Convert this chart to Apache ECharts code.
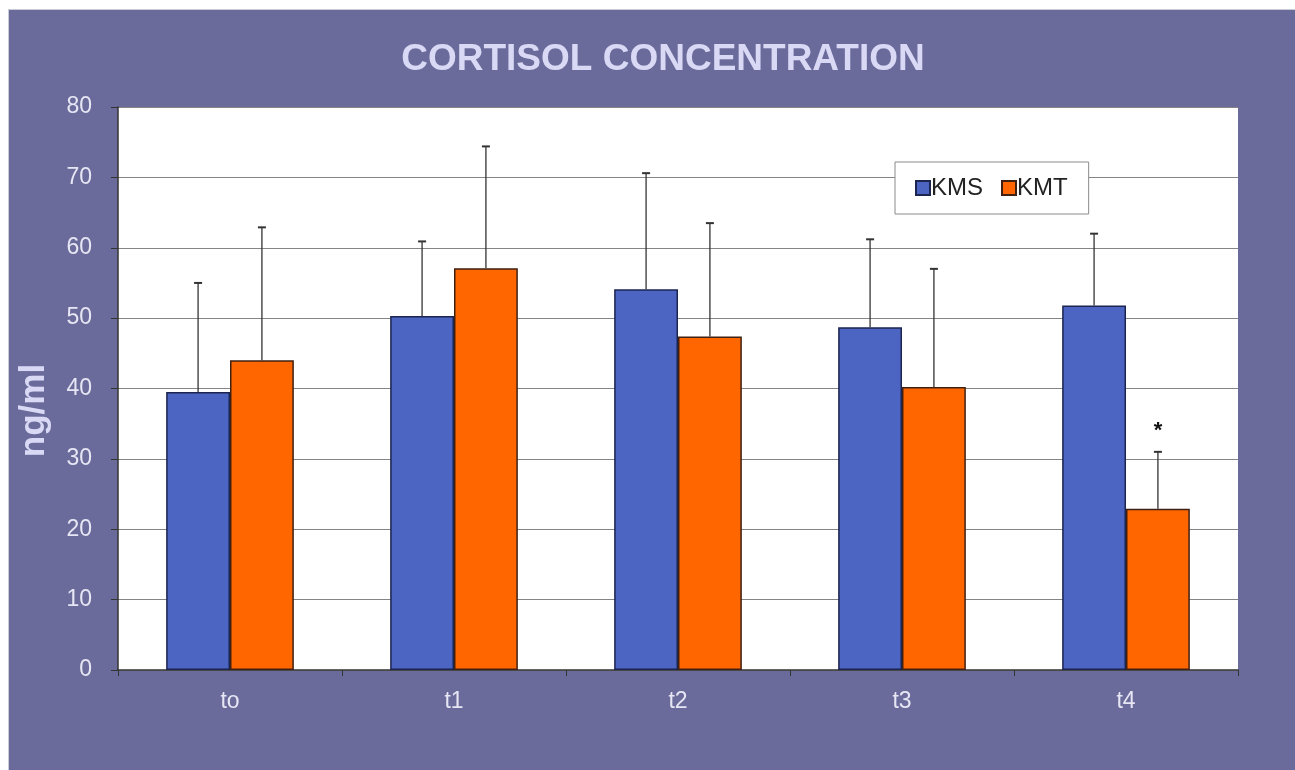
<!DOCTYPE html>
<html>
<head>
<meta charset="utf-8">
<script src="https://cdn.jsdelivr.net/npm/echarts@6/dist/echarts.min.js"></script>
<style>
  html, body { margin: 0; padding: 0; background: #ffffff; }
  #frame { position: absolute; left: 8px; top: 9px; width: 1287px; height: 761px; background: #6b6b9b; border-left: 1px solid #c9cbd6; border-top: 1px solid #c9cbd6; box-sizing: border-box; }
  #chart { position: absolute; left: 0; top: 0; width: 1295px; height: 770px; }
</style>
</head>
<body>
<div id="frame"></div>
<div id="chart"></div>
<script>
// time points
const categories = ['to', 't1', 't2', 't3', 't4']
// mean cortisol, ng/ml
const kmsValues = [39.5, 50.3, 54.1, 48.7, 51.8]
const kmtValues = [44.0, 57.1, 47.4, 40.2, 22.9]
// upper end of the error bars
const kmsErrTop = [55.0, 60.9, 70.6, 61.2, 62.0]
const kmtErrTop = [62.9, 74.4, 63.5, 57.0, 31.0]
// significance marks above KMT
const kmtMarks = ['', '', '', '', '*']
const yTicks = [0, 10, 20, 30, 40, 50, 60, 70, 80]

const chart = echarts.init(document.getElementById('chart'))

// draws one error bar (and an optional mark) per category
const errorBar = (values, tops, marks, side) => (params, api) => {
  const idx = api.value(0)
  const band = api.size([1, 0])[0]
  const x = api.coord([idx, 0])[0] + side * band * 0.1425
  const yBase = api.coord([idx, values[idx]])[1]
  const yTop = api.coord([idx, tops[idx]])[1]
  const children = [
    { type: 'line', shape: { x1: x, y1: yBase, x2: x, y2: yTop }, style: { stroke: '#333', lineWidth: 1.3 } },
    { type: 'line', shape: { x1: x - 4, y1: yTop, x2: x + 4, y2: yTop }, style: { stroke: '#333', lineWidth: 2 } }
  ]
  if (marks && marks[idx]) {
    children.push({
      type: 'text',
      style: { x: x, y: yTop - 21, text: marks[idx], fill: '#111', font: 'bold 22px Liberation Sans', align: 'center', verticalAlign: 'middle' }
    })
  }
  return { type: 'group', children }
}

const option = {
  animation: false,
  backgroundColor: 'transparent',
  title: {
    text: 'CORTISOL CONCENTRATION',
    left: 658,
    top: 36,
    textAlign: 'center',
    textStyle: { color: '#d9d9f6', fontSize: 37, fontWeight: 'bold', fontFamily: 'Liberation Sans' }
  },
  legend: {
    data: ['KMS', 'KMT'],
    left: 895,
    top: 162,
    orient: 'horizontal',
    backgroundColor: '#ffffff',
    borderColor: '#8a8a8a',
    borderWidth: 1,
    borderRadius: 0,
    padding: [14, 21, 14, 20],
    itemWidth: 14,
    itemHeight: 14,
    itemGap: 18,
    icon: 'rect',
    textStyle: { color: '#222', fontSize: 24, fontFamily: 'Liberation Sans', padding: [0, 0, 0, -4] }
  },
  grid: { left: 118, right: 57, top: 107, bottom: 100, backgroundColor: '#ffffff', show: true, borderWidth: 0 },
  xAxis: {
    type: 'category',
    data: categories,
    axisLine: { lineStyle: { color: '#333', width: 1.5 } },
    axisTick: { show: true, length: 6, lineStyle: { color: '#333' } },
    axisLabel: { color: '#e6e6f4', fontSize: 23, fontFamily: 'Liberation Sans', margin: 20 }
  },
  yAxis: {
    type: 'value',
    min: 0,
    max: 80,
    interval: 10,
    name: 'ng/ml',
    nameLocation: 'middle',
    nameGap: 66,
    nameTextStyle: { color: '#d9d9f6', fontSize: 35, fontWeight: 'bold', fontFamily: 'Liberation Sans', padding: [0, 44, 0, 0] },
    axisLine: { show: true, lineStyle: { color: '#333', width: 1.5 } },
    axisTick: { show: true, length: 7, lineStyle: { color: '#333' } },
    splitLine: { lineStyle: { color: '#858585', width: 1.2 } },
    axisLabel: {
      color: '#e6e6f4', fontSize: 23, fontFamily: 'Liberation Sans', margin: 26,
      formatter: (v) => yTicks.includes(v) ? String(v) : ''
    }
  },
  series: [
    {
      name: 'KMS',
      type: 'bar',
      data: kmsValues,
      barGap: '0%',
      barCategoryGap: '43%',
      itemStyle: { color: '#4d65c2', borderColor: '#1c2450', borderWidth: 1.5 }
    },
    {
      name: 'KMT',
      type: 'bar',
      data: kmtValues,
      barGap: '0%',
      barCategoryGap: '43%',
      itemStyle: { color: '#ff6600', borderColor: '#402010', borderWidth: 1.5 }
    },
    {
      type: 'custom',
      renderItem: errorBar(kmsValues, kmsErrTop, null, -1),
      data: categories.map((c, i) => [i]),
      encode: { x: 0, y: -1 },
      z: 5,
      silent: true
    },
    {
      type: 'custom',
      renderItem: errorBar(kmtValues, kmtErrTop, kmtMarks, 1),
      data: categories.map((c, i) => [i]),
      encode: { x: 0, y: -1 },
      z: 5,
      silent: true
    }
  ]
}

chart.setOption(option)
</script>
</body>
</html>
